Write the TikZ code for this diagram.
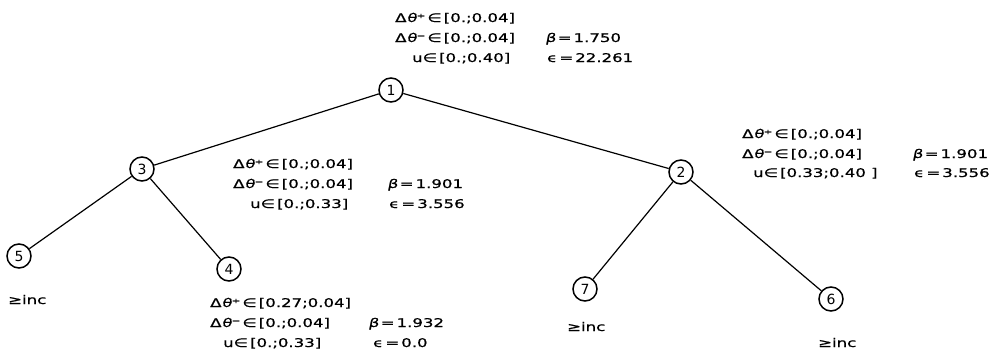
\documentclass[tikz,border=0pt]{standalone}
\usepackage{fontspec}
\setmainfont{DejaVu Sans}
\newfontfamily\lblfont[FakeStretch=1.38,FakeBold=0.8,ItalicFont={DejaVu Sans},ItalicFeatures={FakeSlant=0.2}]{DejaVu Sans}
\newcommand\dtp{Δ\textit{θ}⁺\,}
\newcommand\dtm{Δ\textit{θ}⁻\,}
\newcommand\eqs{\,=\,}
\begin{document}
\begin{tikzpicture}[x=1pt,y=-1pt,
  state/.style={circle,draw,line width=1.5pt,minimum size=24pt,inner sep=0pt,font=\fontsize{14}{14}\selectfont},
  edge/.style={line width=1.2pt},
  lbl/.style={anchor=base west,inner sep=0pt,font=\lblfont\fontsize{12}{12}\selectfont}]
\useasboundingbox (0,0) rectangle (997,362);

\node[state] (n1) at (391,90) {1};
\node[state] (n3) at (142,169) {3};
\node[state] (n2) at (681,172) {2};
\node[state] (n5) at (19,256) {5};
\node[state] (n4) at (229,269) {4};
\node[state] (n7) at (585,289) {7};
\node[state] (n6) at (831,299) {6};

\draw[edge] (n1) -- (n3);
\draw[edge] (n1) -- (n2);
\draw[edge] (n3) -- (n5);
\draw[edge] (n3) -- (n4);
\draw[edge] (n2) -- (n7);
\draw[edge] (n2) -- (n6);

% node 1 block
\node[lbl] (a1) at (395,22) {\dtp∈\,[0.;0.04]};
\node[lbl] (a2) at (395,42) {\dtm∈\,[0.;0.04]};
\node[lbl] (a3) at (412,62) {u∈\,[0.;0.40]};
\node[lbl] (a4) at (545,42) {\textit{β}\eqs1.750};
\node[lbl] (a5) at (547,62) {ϵ\eqs22.261};

% node 3 block
\node[lbl] (b1) at (233,168) {\dtp∈\,[0.;0.04]};
\node[lbl] (b2) at (233,188) {\dtm∈\,[0.;0.04]};
\node[lbl] (b3) at (250,208) {u∈\,[0.;0.33]};
\node[lbl] (b4) at (387,188) {\textit{β}\eqs1.901};
\node[lbl] (b5) at (389,208) {ϵ\eqs3.556};

% node 2 block
\node[lbl] (c1) at (742,138) {\dtp∈\,[0.;0.04]};
\node[lbl] (c2) at (742,158) {\dtm∈\,[0.;0.04]};
\node[lbl] (c3) at (753,177) {u∈\,[0.33;0.40 ]};
\node[lbl] (c4) at (912,158) {\textit{β}\eqs1.901};
\node[lbl] (c5) at (914,177) {ϵ\eqs3.556};

% node 4 block
\node[lbl] (d1) at (210,307) {\dtp∈\,[0.27;0.04]};
\node[lbl] (d2) at (210,327) {\dtm∈\,[0.;0.04]};
\node[lbl] (d3) at (223,347) {u∈\,[0.;0.33]};
\node[lbl] (d4) at (368,327) {\textit{β}\eqs1.932};
\node[lbl] (d5) at (373,347) {ϵ\eqs0.0};

% leaf labels
\node[lbl] (e5) at (8,304) {≥inc};
\node[lbl] (e7) at (567,331) {≥inc};
\node[lbl] (e6) at (818,347) {≥inc};
\end{tikzpicture}
\end{document}
